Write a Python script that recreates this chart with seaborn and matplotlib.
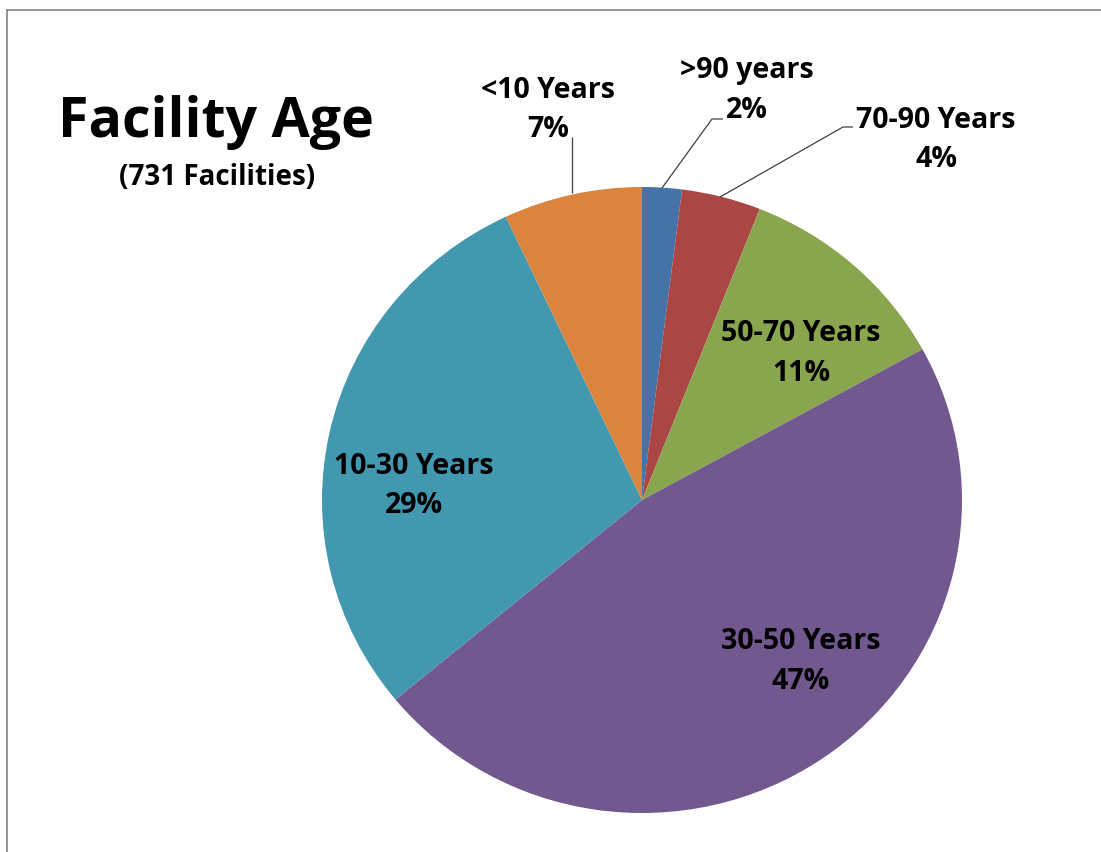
import matplotlib
matplotlib.use("Agg")
import matplotlib.pyplot as plt
from matplotlib.lines import Line2D
import seaborn as sns

# Facility age breakdown (share of 731 facilities), clockwise from 12 o'clock
categories = [">90 years", "70-90 Years", "50-70 Years", "30-50 Years", "10-30 Years", "<10 Years"]
shares = [2, 4, 11, 47, 29, 7]
colors = ["#4572A7", "#AA4643", "#89A54E", "#71588F", "#4198AF", "#DB843D"]
title = "Facility Age"
subtitle = "(731 Facilities)"

sns.set_theme(style="white")
plt.rcParams["font.family"] = ["Open Sans", "DejaVu Sans"]

W, H, DPI = 1101, 852, 100
fig = plt.figure(figsize=(W / DPI, H / DPI), dpi=DPI)
fig.patch.set_facecolor("white")

# pie centre and radii in pixels (slightly wider than tall)
CX, CY, RX, RY = 642, 500, 320, 313
ax = fig.add_axes([(CX - RX) / W, (H - CY - RY) / H, 2 * RX / W, 2 * RY / H])

ax.pie(shares, colors=colors, startangle=90, counterclock=False, radius=1,
       wedgeprops=dict(linewidth=0, antialiased=True))
ax.set_xlim(-1, 1)
ax.set_ylim(-1, 1)
ax.set_aspect("auto")
ax.axis("off")


def to_data(px, py):
    return (px - CX) / RX, (CY - py) / RY


# label anchor (x centre, baseline of first line, baseline of second line) in pixels
label_pos = {
    ">90 years": (747, 78, 118),
    "70-90 Years": (936, 128, 167),
    "50-70 Years": (801, 341, 381),
    "30-50 Years": (801, 649, 689),
    "10-30 Years": (414, 474, 513),
    "<10 Years": (548, 98, 137),
}
# leader lines for the small outer labels, pixel polylines
leaders = {
    ">90 years": [(662, 188), (712, 119), (723, 119)],
    "70-90 Years": [(720, 197), (843, 127), (853, 127)],
    "<10 Years": [(572, 193), (572, 137)],
}

label_fs = 20.5
weight = "bold"
for cat, val in zip(categories, shares):
    px, b1, b2 = label_pos[cat]
    x, y1 = to_data(px, b1)
    _, y2 = to_data(px, b2)
    ax.text(x, y1, cat, ha="center", va="baseline", fontsize=label_fs,
            fontweight=weight, color="black", clip_on=False)
    ax.text(x, y2, f"{val}%", ha="center", va="baseline", fontsize=label_fs,
            fontweight=weight, color="black", clip_on=False)
    if cat in leaders:
        pts = [to_data(a, b) for a, b in leaders[cat]]
        ax.plot([p[0] for p in pts], [p[1] for p in pts], color="#404040",
                lw=0.9, clip_on=False, solid_capstyle="butt")

# title block
fig.text(216 / W, 1 - 137 / H, title, ha="center", va="baseline",
         fontsize=40, fontweight=weight, color="black")
fig.text(217 / W, 1 - 185 / H, subtitle, ha="center", va="baseline",
         fontsize=20, fontweight=weight, color="black")

# chart-area frame (left and top edges)
fig.add_artist(Line2D([7 / W, 7 / W], [0, 1 - 10 / H], transform=fig.transFigure,
                      color="#8a8a8a", lw=1.3))
fig.add_artist(Line2D([7 / W, 1], [1 - 10 / H, 1 - 10 / H], transform=fig.transFigure,
                      color="#8a8a8a", lw=1.3))

fig.savefig("out.png", dpi=DPI, facecolor="white")
